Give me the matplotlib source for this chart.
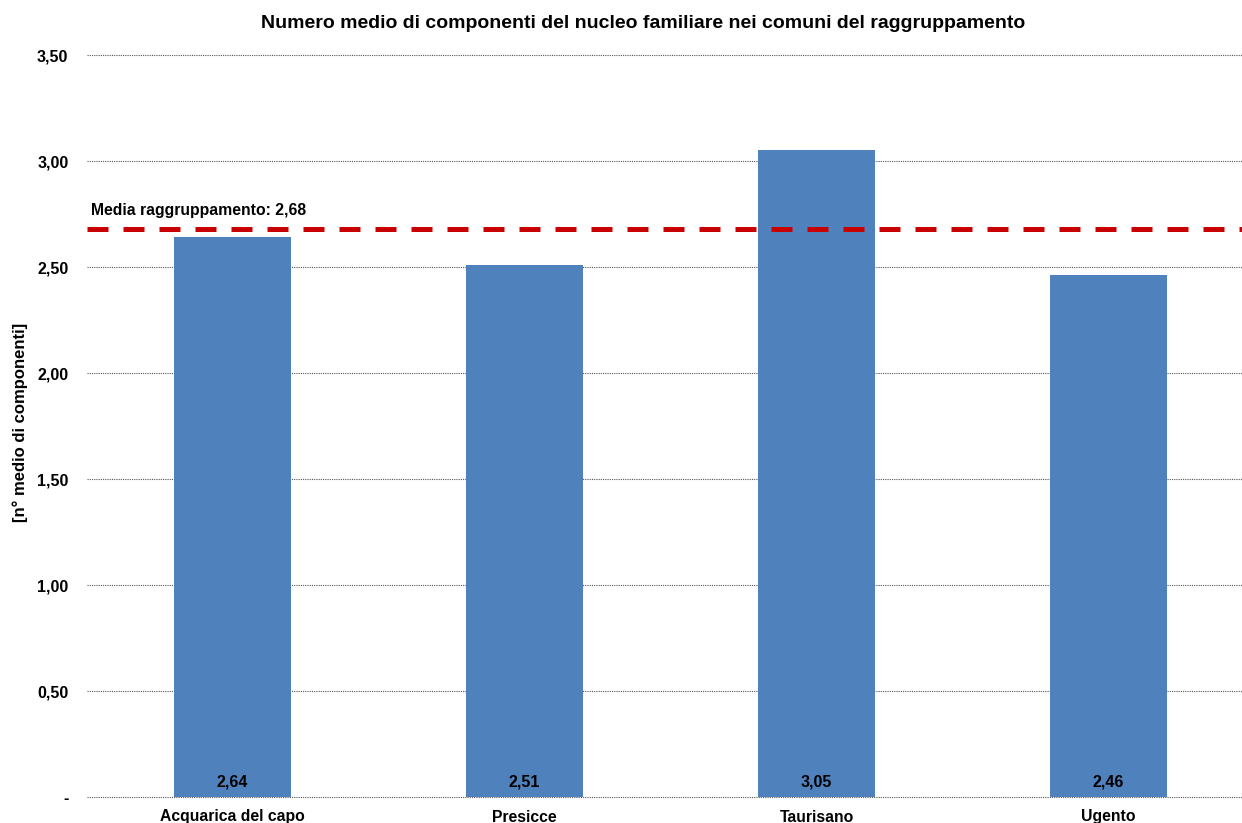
import matplotlib
matplotlib.use("Agg")
import matplotlib.pyplot as plt
from matplotlib.ticker import FixedLocator, FixedFormatter

plt.rcParams['font.family'] = ['Liberation Sans', 'DejaVu Sans']
plt.rcParams['font.weight'] = 'bold'

comuni = ["Acquarica del capo", "Presicce", "Taurisano", "Ugento"]
componenti = [2.64, 2.51, 3.05, 2.46]
media_raggruppamento = 2.68
y_ticks = [0.0, 0.5, 1.0, 1.5, 2.0, 2.5, 3.0, 3.5]
y_tick_labels = ["-", "0,50", "1,00", "1,50", "2,00", "2,50", "3,00", "3,50"]

W, H = 1242, 823
fig = plt.figure(figsize=(W / 100, H / 100), dpi=100)
left, right, top, bottom = 86.5, 1254.5, 55, 797
ax = fig.add_axes([left / W, 1 - bottom / H, (right - left) / W, (bottom - top) / H])

x = range(len(comuni))
ax.bar(x, componenti, width=0.40, color="#4F81BD", zorder=2)

# value labels sit inside each bar, near its base
for xi, v in zip(x, componenti):
    ax.annotate(f"{v:.2f}".replace(".", ","), (xi, 0), xytext=(0, 10.5),
                textcoords="offset points", ha="center", va="center",
                fontsize=11.5, fontweight="bold", color="black", zorder=3)

# dashed reference line for the group average
ax.axhline(media_raggruppamento, color="#C80000", lw=3.6,
           dashes=(4.2, 3.0), zorder=4)
ax.text(0.004, media_raggruppamento + 0.085,
        f"Media raggruppamento: {media_raggruppamento:.2f}".replace(".", ","),
        transform=ax.get_yaxis_transform(), ha="left", va="center",
        fontsize=11.3, fontweight="bold")

ax.set_xlim(-0.5, len(comuni) - 0.5)
ax.set_ylim(0, 3.5)
ax.yaxis.set_major_locator(FixedLocator(y_ticks))
ax.yaxis.set_major_formatter(FixedFormatter(y_tick_labels))
ax.set_xticks(list(x))
ax.set_xticklabels(comuni)
ax.tick_params(axis="both", length=0)
ax.tick_params(axis="y", pad=13, labelsize=11.5)
ax.tick_params(axis="x", pad=9, labelsize=11.3)
for lab in ax.get_xticklabels() + ax.get_yticklabels():
    lab.set_fontweight("bold")

ax.grid(axis="y", color="#555555", linestyle=(0, (1, 1)), linewidth=0.8, zorder=1)
ax.set_axisbelow(True)
for gl in ax.yaxis.get_gridlines():
    gl.set_clip_on(False)
for s in ax.spines.values():
    s.set_visible(False)

ax.set_ylabel("[n° medio di componenti]", fontsize=12, fontweight="bold")
ax.yaxis.set_label_coords((28 - left) / (right - left), (bottom - 422) / (bottom - top))

fig.text(643 / W, 1 - 23 / H,
         "Numero medio di componenti del nucleo familiare nei comuni del raggruppamento",
         ha="center", va="center", fontsize=14, fontweight="bold")

fig.savefig("out.png", dpi=100)
